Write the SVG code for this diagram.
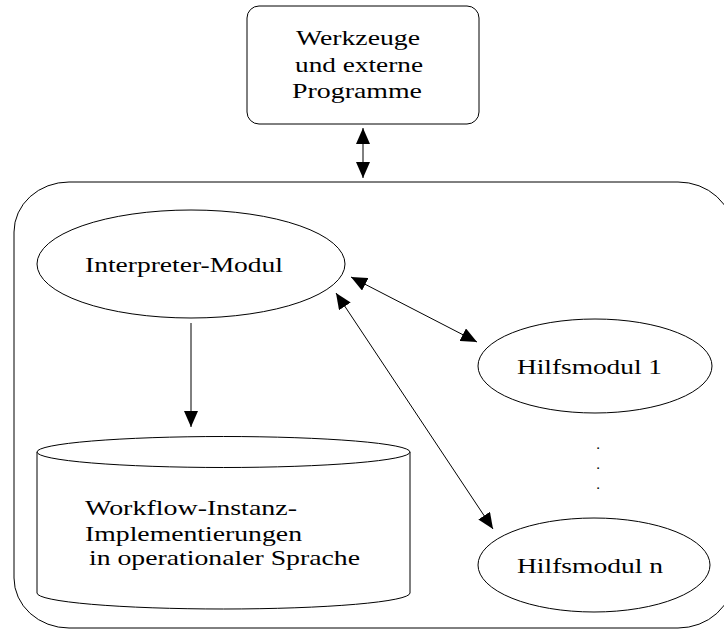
<svg xmlns="http://www.w3.org/2000/svg" width="724" height="630" viewBox="0 0 724 630">
  <style>
    .shape { fill: #fff; stroke: #000; stroke-width: 1; }
    .edge { fill: none; stroke: #000; stroke-width: 1; }
    .label { font-family: "Liberation Serif", "Times New Roman", serif; font-size: 21px; fill: #000; }
    .dot { font-family: "Liberation Serif", "Times New Roman", serif; font-size: 15px; fill: #000; }
  </style>
  <defs>
    <marker id="head" markerUnits="userSpaceOnUse" markerWidth="16" markerHeight="14" refX="16" refY="7" orient="auto-start-reverse" viewBox="0 0 16 14">
      <path d="M0,0 L16,7 L0,14 z" fill="#000"/>
    </marker>
  </defs>
  <rect width="724" height="630" fill="#fff"/>

  <!-- runtime system container -->
  <g id="system">
    <rect class="shape" x="14" y="182" width="719" height="446" rx="55" ry="50"/>
  </g>

  <!-- tools and external programs -->
  <g id="tools">
    <rect class="shape" x="247" y="6" width="232" height="118" rx="12" ry="12"/>
    <text class="label" x="296" y="45" textLength="124" lengthAdjust="spacingAndGlyphs">Werkzeuge</text>
    <text class="label" x="295" y="72" textLength="128" lengthAdjust="spacingAndGlyphs">und externe</text>
    <text class="label" x="292" y="98" textLength="130" lengthAdjust="spacingAndGlyphs">Programme</text>
  </g>

  <g id="interpreter">
    <ellipse class="shape" cx="191" cy="264" rx="154" ry="54"/>
    <text class="label" x="85" y="272" textLength="198" lengthAdjust="spacingAndGlyphs">Interpreter-Modul</text>
  </g>

  <g id="helper1">
    <ellipse class="shape" cx="595" cy="366" rx="117" ry="47"/>
    <text class="label" x="517" y="374" textLength="145" lengthAdjust="spacingAndGlyphs">Hilfsmodul 1</text>
  </g>

  <!-- vertical ellipsis between the helper modules -->
  <g id="helper-dots">
    <text class="dot" x="598" y="449" text-anchor="middle">.</text>
    <text class="dot" x="598" y="469" text-anchor="middle">.</text>
    <text class="dot" x="598" y="489" text-anchor="middle">.</text>
  </g>

  <g id="helpern">
    <ellipse class="shape" cx="594" cy="565" rx="116" ry="47"/>
    <text class="label" x="517" y="573" textLength="146" lengthAdjust="spacingAndGlyphs">Hilfsmodul n</text>
  </g>

  <!-- instance store (cylinder) -->
  <g id="instances">
    <path class="shape" d="M37,452 V593 A186.5,16 0 0 0 410,593 V452 Z"/>
    <ellipse class="shape" cx="223.5" cy="452" rx="186.5" ry="15.5"/>
    <text class="label" x="85" y="515" textLength="212" lengthAdjust="spacingAndGlyphs">Workflow-Instanz-</text>
    <text class="label" x="85" y="541" textLength="217" lengthAdjust="spacingAndGlyphs">Implementierungen</text>
    <text class="label" x="89" y="565" textLength="271" lengthAdjust="spacingAndGlyphs">in operationaler Sprache</text>
  </g>

  <g id="connectors">
    <line class="edge" x1="363" y1="128" x2="363" y2="178" marker-start="url(#head)" marker-end="url(#head)"/>
    <line class="edge" x1="191" y1="323" x2="191" y2="427" marker-end="url(#head)"/>
    <line class="edge" x1="351" y1="277" x2="477" y2="342" marker-start="url(#head)" marker-end="url(#head)"/>
    <line class="edge" x1="336" y1="293" x2="493" y2="529" marker-start="url(#head)" marker-end="url(#head)"/>
  </g>
</svg>
